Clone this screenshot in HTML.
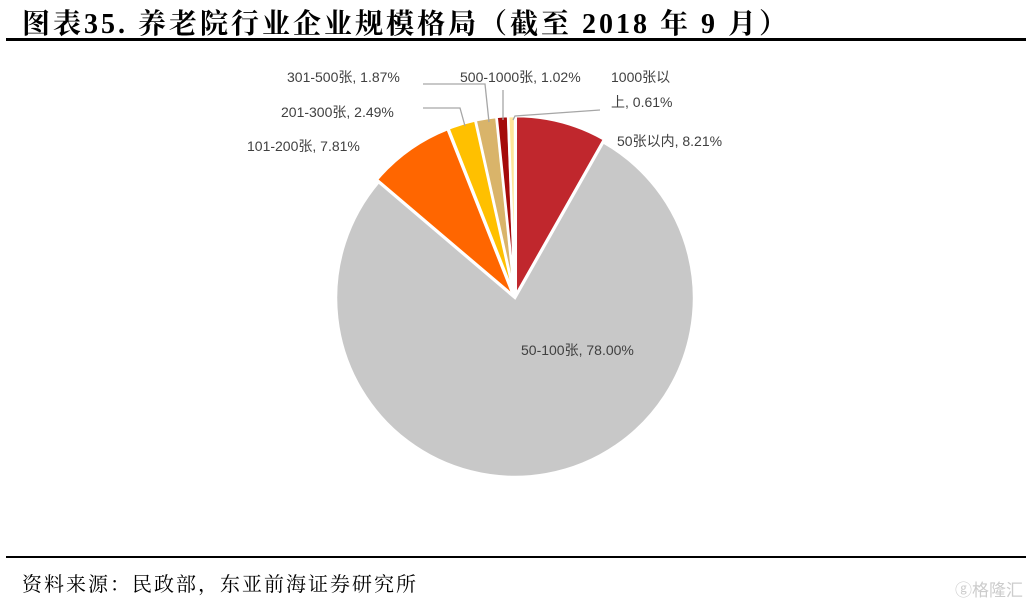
<!DOCTYPE html>
<html><head><meta charset="utf-8"><style>
body{margin:0;background:#fff;width:1031px;height:604px;overflow:hidden;position:relative;font-family:"Liberation Sans","Noto Sans CJK SC",sans-serif}
.title{position:absolute;left:22px;top:2px;font-family:"Liberation Serif","Noto Serif CJK SC",serif;font-weight:bold;font-size:28px;color:#000;letter-spacing:3px;white-space:nowrap}
.l1{position:absolute;left:6px;top:38px;width:1020px;height:3px;background:#000}
.l2{position:absolute;left:6px;top:556px;width:1020px;height:2px;background:#000}
.src{position:absolute;left:22px;top:568px;font-family:"Liberation Serif","Noto Serif CJK SC",serif;font-size:20px;color:#000;letter-spacing:2px}
.wm{position:absolute;right:8px;top:576px;font-size:17px;color:#ccc}
</style></head><body>
<div class="title">图表35. 养老院行业企业规模格局（截至 2018 年 9 月）</div>
<div class="l1"></div>
<svg id="s" width="1031" height="604" style="position:absolute;left:0;top:0" font-family="Liberation Sans, Noto Sans CJK SC, sans-serif" font-size="14" fill="#404040">
<g id="p"></g>
<g stroke="#a6a6a6" stroke-width="1.3" fill="none">
<polyline points="423,84 485,84 489,122"/>
<polyline points="423,108 460,108 465,126"/>
<polyline points="503,90 503,120"/>
<polyline points="600,110 515,116 513,120"/>
</g>
<text x="287" y="82">301-500张, 1.87%</text>
<text x="281" y="117">201-300张, 2.49%</text>
<text x="247" y="151">101-200张, 7.81%</text>
<text x="460" y="82">500-1000张, 1.02%</text>
<text x="611" y="82">1000张以</text>
<text x="611" y="107">上, 0.61%</text>
<text x="617" y="146">50张以内, 8.21%</text>
<text x="521" y="355">50-100张, 78.00%</text>
</svg>
<div class="l2"></div>
<div class="src">资料来源：民政部，东亚前海证券研究所</div>
<div class="wm">ⓖ格隆汇</div>
<script>
var d=[[8.21,"#C0272D"],[78,"#C8C8C8"],[7.81,"#FF6600"],[2.49,"#FFC000"],[1.87,"#D9B46A"],[1.02,"#A50B0B"],[0.61,"#FFE699"]];
var cx=515,cy=298,r=179,a=0,h="";
function pt(t,rr,ox,oy){t=t*Math.PI/180;return [ox+rr*Math.sin(t),oy-rr*Math.cos(t)];}
d.forEach(function(s,i){var b=a+s[0]*3.6;var m=(a+b)/2,e=(i==1?0:3);var o=pt(m,e,cx,cy);var p=pt(a,r,o[0],o[1]),q=pt(b,r,o[0],o[1]);
h+='<path d="M'+o[0]+','+o[1]+' L'+p[0]+','+p[1]+' A'+r+','+r+' 0 '+((b-a)>180?1:0)+' 1 '+q[0]+','+q[1]+' Z" fill="'+s[1]+'" stroke="#fff" stroke-width="2.5"/>';a=b;});
document.getElementById("p").innerHTML=h;
</script>
</body></html>
